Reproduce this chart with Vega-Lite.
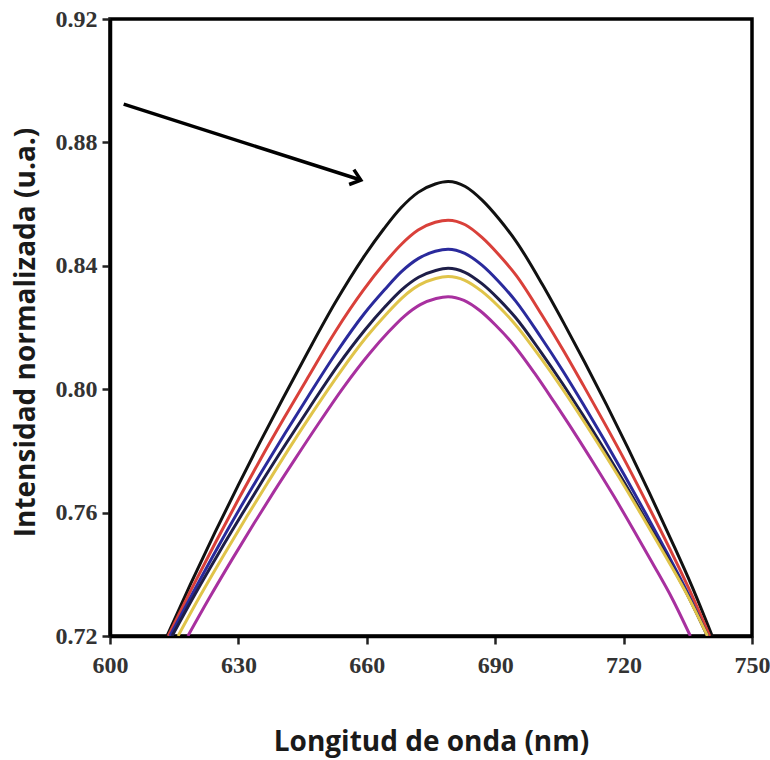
{
  "$schema": "https://vega.github.io/schema/vega-lite/v6.json",
  "width": 642,
  "height": 617,
  "autosize": {"type": "none"},
  "padding": {"left": 110, "top": 19, "right": 18, "bottom": 124},
  "background": "white",
  "config": {
    "view": {"stroke": "black", "strokeWidth": 3.5},
    "axis": {
      "domainColor": "black",
      "domainWidth": 3.5,
      "tickColor": "#222222",
      "tickWidth": 2.5,
      "tickSize": 8,
      "grid": false,
      "labelFont": "Liberation Serif",
      "labelFontWeight": "bold",
      "labelFontSize": 24,
      "labelColor": "#333333",
      "titleFont": "Open Sans",
      "titleFontWeight": "bold",
      "titleColor": "#1a1a1a"
    }
  },
  "datasets": {
    "curvas": [
      {"serie":"Curva 1","longitud":613.3,"intensidad":0.7200},{"serie":"Curva 1","longitud":618.7,"intensidad":0.7365},{"serie":"Curva 1","longitud":624.5,"intensidad":0.7535},{"serie":"Curva 1","longitud":630,"intensidad":0.7690},{"serie":"Curva 1","longitud":635,"intensidad":0.7827},{"serie":"Curva 1","longitud":640.4,"intensidad":0.7970},{"serie":"Curva 1","longitud":646,"intensidad":0.8115},{"serie":"Curva 1","longitud":652.6,"intensidad":0.8280},{"serie":"Curva 1","longitud":659.1,"intensidad":0.8425},{"serie":"Curva 1","longitud":664,"intensidad":0.8520},{"serie":"Curva 1","longitud":668,"intensidad":0.8588},{"serie":"Curva 1","longitud":672,"intensidad":0.8638},{"serie":"Curva 1","longitud":676,"intensidad":0.8665},{"serie":"Curva 1","longitud":679,"intensidad":0.8673},{"serie":"Curva 1","longitud":683,"intensidad":0.8657},{"serie":"Curva 1","longitud":687,"intensidad":0.8612},{"serie":"Curva 1","longitud":691,"intensidad":0.8550},{"serie":"Curva 1","longitud":695,"intensidad":0.8477},{"serie":"Curva 1","longitud":701,"intensidad":0.8340},{"serie":"Curva 1","longitud":706,"intensidad":0.8215},{"serie":"Curva 1","longitud":711,"intensidad":0.8085},{"serie":"Curva 1","longitud":716,"intensidad":0.7950},{"serie":"Curva 1","longitud":721,"intensidad":0.7810},{"serie":"Curva 1","longitud":726,"intensidad":0.7665},{"serie":"Curva 1","longitud":731,"intensidad":0.7515},{"serie":"Curva 1","longitud":736,"intensidad":0.7360},{"serie":"Curva 1","longitud":740.7,"intensidad":0.7200},

      {"serie":"Curva 2","longitud":613.6,"intensidad":0.7200},{"serie":"Curva 2","longitud":619.0,"intensidad":0.7351},{"serie":"Curva 2","longitud":624.8,"intensidad":0.7507},{"serie":"Curva 2","longitud":630.2,"intensidad":0.7648},{"serie":"Curva 2","longitud":635.2,"intensidad":0.7774},{"serie":"Curva 2","longitud":640.6,"intensidad":0.7905},{"serie":"Curva 2","longitud":646.2,"intensidad":0.8037},{"serie":"Curva 2","longitud":652.7,"intensidad":0.8188},{"serie":"Curva 2","longitud":659.2,"intensidad":0.8321},{"serie":"Curva 2","longitud":664.1,"intensidad":0.8408},{"serie":"Curva 2","longitud":668.1,"intensidad":0.8470},{"serie":"Curva 2","longitud":672.0,"intensidad":0.8516},{"serie":"Curva 2","longitud":676.0,"intensidad":0.8541},{"serie":"Curva 2","longitud":679,"intensidad":0.8548},{"serie":"Curva 2","longitud":683.0,"intensidad":0.8533},{"serie":"Curva 2","longitud":686.9,"intensidad":0.8492},{"serie":"Curva 2","longitud":690.9,"intensidad":0.8435},{"serie":"Curva 2","longitud":694.9,"intensidad":0.8369},{"serie":"Curva 2","longitud":700.8,"intensidad":0.8243},{"serie":"Curva 2","longitud":705.8,"intensidad":0.8129},{"serie":"Curva 2","longitud":710.7,"intensidad":0.8010},{"serie":"Curva 2","longitud":715.7,"intensidad":0.7886},{"serie":"Curva 2","longitud":720.7,"intensidad":0.7758},{"serie":"Curva 2","longitud":725.6,"intensidad":0.7626},{"serie":"Curva 2","longitud":730.6,"intensidad":0.7488},{"serie":"Curva 2","longitud":735.5,"intensidad":0.7346},{"serie":"Curva 2","longitud":740.1,"intensidad":0.7200},

      {"serie":"Curva 3","longitud":614.0,"intensidad":0.7200},{"serie":"Curva 3","longitud":619.4,"intensidad":0.7340},{"serie":"Curva 3","longitud":625.1,"intensidad":0.7485},{"serie":"Curva 3","longitud":630.5,"intensidad":0.7617},{"serie":"Curva 3","longitud":635.5,"intensidad":0.7734},{"serie":"Curva 3","longitud":640.8,"intensidad":0.7855},{"serie":"Curva 3","longitud":646.4,"intensidad":0.7979},{"serie":"Curva 3","longitud":652.9,"intensidad":0.8119},{"serie":"Curva 3","longitud":659.3,"intensidad":0.8243},{"serie":"Curva 3","longitud":664.2,"intensidad":0.8323},{"serie":"Curva 3","longitud":668.1,"intensidad":0.8381},{"serie":"Curva 3","longitud":672.1,"intensidad":0.8424},{"serie":"Curva 3","longitud":676.0,"intensidad":0.8447},{"serie":"Curva 3","longitud":679,"intensidad":0.8454},{"serie":"Curva 3","longitud":682.9,"intensidad":0.8440},{"serie":"Curva 3","longitud":686.9,"intensidad":0.8402},{"serie":"Curva 3","longitud":690.8,"intensidad":0.8349},{"serie":"Curva 3","longitud":694.7,"intensidad":0.8287},{"serie":"Curva 3","longitud":700.6,"intensidad":0.8170},{"serie":"Curva 3","longitud":705.6,"intensidad":0.8064},{"serie":"Curva 3","longitud":710.5,"intensidad":0.7953},{"serie":"Curva 3","longitud":715.4,"intensidad":0.7838},{"serie":"Curva 3","longitud":720.3,"intensidad":0.7719},{"serie":"Curva 3","longitud":725.2,"intensidad":0.7596},{"serie":"Curva 3","longitud":730.2,"intensidad":0.7468},{"serie":"Curva 3","longitud":735.1,"intensidad":0.7336},{"serie":"Curva 3","longitud":739.6,"intensidad":0.7200},

      {"serie":"Curva 4","longitud":614.5,"intensidad":0.7200},{"serie":"Curva 4","longitud":619.8,"intensidad":0.7334},{"serie":"Curva 4","longitud":625.5,"intensidad":0.7471},{"serie":"Curva 4","longitud":630.9,"intensidad":0.7596},{"serie":"Curva 4","longitud":635.8,"intensidad":0.7707},{"serie":"Curva 4","longitud":641.1,"intensidad":0.7823},{"serie":"Curva 4","longitud":646.6,"intensidad":0.7940},{"serie":"Curva 4","longitud":653.1,"intensidad":0.8074},{"serie":"Curva 4","longitud":659.5,"intensidad":0.8191},{"serie":"Curva 4","longitud":664.3,"intensidad":0.8268},{"serie":"Curva 4","longitud":668.2,"intensidad":0.8323},{"serie":"Curva 4","longitud":672.1,"intensidad":0.8363},{"serie":"Curva 4","longitud":676.1,"intensidad":0.8385},{"serie":"Curva 4","longitud":679,"intensidad":0.8392},{"serie":"Curva 4","longitud":682.9,"intensidad":0.8379},{"serie":"Curva 4","longitud":686.9,"intensidad":0.8342},{"serie":"Curva 4","longitud":690.8,"intensidad":0.8292},{"serie":"Curva 4","longitud":694.7,"intensidad":0.8233},{"serie":"Curva 4","longitud":700.6,"intensidad":0.8122},{"serie":"Curva 4","longitud":705.6,"intensidad":0.8021},{"serie":"Curva 4","longitud":710.5,"intensidad":0.7916},{"serie":"Curva 4","longitud":715.4,"intensidad":0.7807},{"serie":"Curva 4","longitud":720.3,"intensidad":0.7694},{"serie":"Curva 4","longitud":725.2,"intensidad":0.7576},{"serie":"Curva 4","longitud":730.2,"intensidad":0.7455},{"serie":"Curva 4","longitud":735.1,"intensidad":0.7329},{"serie":"Curva 4","longitud":739.6,"intensidad":0.7200},

      {"serie":"Curva 5","longitud":615.9,"intensidad":0.7200},{"serie":"Curva 5","longitud":621.1,"intensidad":0.7331},{"serie":"Curva 5","longitud":626.7,"intensidad":0.7465},{"serie":"Curva 5","longitud":632.0,"intensidad":0.7588},{"serie":"Curva 5","longitud":636.8,"intensidad":0.7696},{"serie":"Curva 5","longitud":641.9,"intensidad":0.7809},{"serie":"Curva 5","longitud":647.3,"intensidad":0.7924},{"serie":"Curva 5","longitud":653.7,"intensidad":0.8054},{"serie":"Curva 5","longitud":659.9,"intensidad":0.8169},{"serie":"Curva 5","longitud":664.6,"intensidad":0.8244},{"serie":"Curva 5","longitud":668.4,"intensidad":0.8298},{"serie":"Curva 5","longitud":672.3,"intensidad":0.8338},{"serie":"Curva 5","longitud":676.1,"intensidad":0.8359},{"serie":"Curva 5","longitud":679,"intensidad":0.8365},{"serie":"Curva 5","longitud":682.9,"intensidad":0.8353},{"serie":"Curva 5","longitud":686.9,"intensidad":0.8317},{"serie":"Curva 5","longitud":690.8,"intensidad":0.8268},{"serie":"Curva 5","longitud":694.7,"intensidad":0.8210},{"serie":"Curva 5","longitud":700.6,"intensidad":0.8102},{"serie":"Curva 5","longitud":705.6,"intensidad":0.8003},{"serie":"Curva 5","longitud":710.5,"intensidad":0.7900},{"serie":"Curva 5","longitud":715.4,"intensidad":0.7793},{"serie":"Curva 5","longitud":720.3,"intensidad":0.7683},{"serie":"Curva 5","longitud":725.2,"intensidad":0.7568},{"serie":"Curva 5","longitud":730.2,"intensidad":0.7449},{"serie":"Curva 5","longitud":735.1,"intensidad":0.7327},{"serie":"Curva 5","longitud":739.6,"intensidad":0.7200},

      {"serie":"Curva 6","longitud":618.2,"intensidad":0.7200},{"serie":"Curva 6","longitud":623.2,"intensidad":0.7323},{"serie":"Curva 6","longitud":628.6,"intensidad":0.7450},{"serie":"Curva 6","longitud":633.7,"intensidad":0.7566},{"serie":"Curva 6","longitud":638.3,"intensidad":0.7668},{"serie":"Curva 6","longitud":643.3,"intensidad":0.7775},{"serie":"Curva 6","longitud":648.5,"intensidad":0.7884},{"serie":"Curva 6","longitud":654.6,"intensidad":0.8007},{"serie":"Curva 6","longitud":660.6,"intensidad":0.8115},{"serie":"Curva 6","longitud":665.1,"intensidad":0.8186},{"serie":"Curva 6","longitud":668.8,"intensidad":0.8237},{"serie":"Curva 6","longitud":672.5,"intensidad":0.8274},{"serie":"Curva 6","longitud":676.2,"intensidad":0.8294},{"serie":"Curva 6","longitud":679,"intensidad":0.8300},{"serie":"Curva 6","longitud":682.7,"intensidad":0.8288},{"serie":"Curva 6","longitud":686.4,"intensidad":0.8255},{"serie":"Curva 6","longitud":690.0,"intensidad":0.8209},{"serie":"Curva 6","longitud":693.7,"intensidad":0.8154},{"serie":"Curva 6","longitud":699.2,"intensidad":0.8052},{"serie":"Curva 6","longitud":703.8,"intensidad":0.7958},{"serie":"Curva 6","longitud":708.4,"intensidad":0.7861},{"serie":"Curva 6","longitud":713.0,"intensidad":0.7760},{"serie":"Curva 6","longitud":717.6,"intensidad":0.7656},{"serie":"Curva 6","longitud":722.2,"intensidad":0.7547},{"serie":"Curva 6","longitud":726.8,"intensidad":0.7435},{"serie":"Curva 6","longitud":731.4,"intensidad":0.7320},{"serie":"Curva 6","longitud":735.6,"intensidad":0.7200}
    ],
    "flecha": [
      {"x": 603.2, "y": 0.8924, "x2": 658.6, "y2": 0.8678}
    ]
  },
  "layer": [
    {
      "data": {"name": "curvas"},
      "mark": {"type": "line", "interpolate": "monotone", "strokeWidth": 3, "clip": true},
      "encoding": {
        "x": {
          "field": "longitud",
          "type": "quantitative",
          "scale": {"domain": [600, 750], "nice": false, "zero": false},
          "axis": {
            "title": "Longitud de onda (nm)",
            "values": [600, 630, 660, 690, 720, 750],
            "format": "d",
            "labelFlush": false,
            "labelOverlap": false,
            "labelPadding": 9,
            "titleFontSize": 28,
            "titleX": 321,
            "titleY": 114,
            "titleBaseline": "alphabetic",
            "titleAnchor": "middle"
          }
        },
        "y": {
          "field": "intensidad",
          "type": "quantitative",
          "scale": {"domain": [0.72, 0.92], "nice": false, "zero": false},
          "axis": {
            "title": "Intensidad normalizada (u.a.)",
            "values": [0.72, 0.76, 0.80, 0.84, 0.88, 0.92],
            "format": ".2f",
            "labelFlush": false,
            "labelOverlap": false,
            "labelPadding": 5,
            "titleFontSize": 28,
            "titleAngle": -90,
            "titleX": -76,
            "titleY": 313,
            "titleBaseline": "alphabetic",
            "titleAlign": "center"
          }
        },
        "color": {
          "field": "serie",
          "type": "nominal",
          "scale": {
            "domain": ["Curva 1", "Curva 2", "Curva 3", "Curva 4", "Curva 5", "Curva 6"],
            "range": ["#111111", "#d9403a", "#2a2a9c", "#1e1e48", "#e0c44a", "#a8309f"]
          },
          "legend": null
        }
      }
    },
    {
      "data": {"name": "flecha"},
      "mark": {"type": "rule", "strokeWidth": 3.5, "color": "black"},
      "encoding": {
        "x": {"field": "x", "type": "quantitative"},
        "y": {"field": "y", "type": "quantitative"},
        "x2": {"field": "x2"},
        "y2": {"field": "y2"}
      }
    },
    {
      "data": {"name": "flecha"},
      "mark": {
        "type": "point",
        "shape": "M-1,-0.8L0,0L-1,0.8",
        "filled": false,
        "stroke": "black",
        "strokeWidth": 3.5,
        "size": 380,
        "angle": 17.7,
        "opacity": 1
      },
      "encoding": {
        "x": {"field": "x2", "type": "quantitative"},
        "y": {"field": "y2", "type": "quantitative"}
      }
    }
  ]
}
